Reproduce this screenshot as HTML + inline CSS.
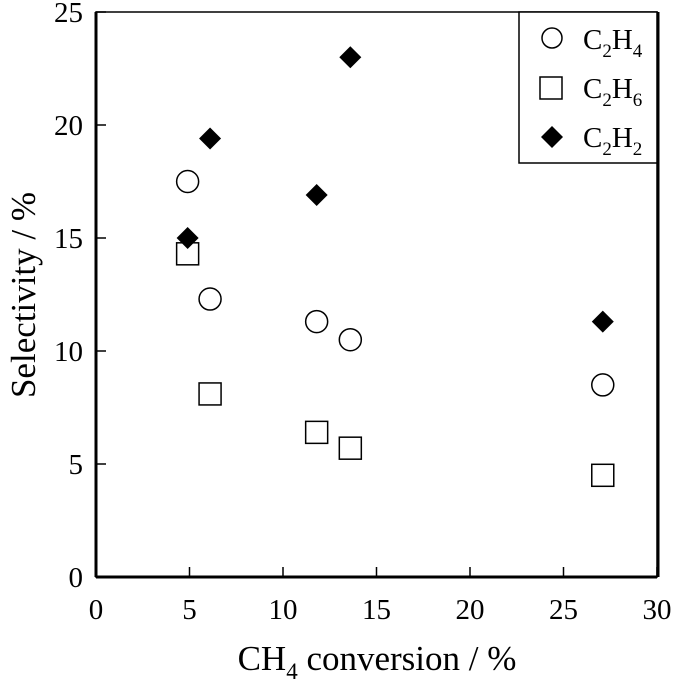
<!DOCTYPE html>
<html><head><meta charset="utf-8"><style>
body{margin:0;background:#fff;}
svg text{font-family:"Liberation Serif",serif;fill:#000;}
</style></head><body>
<svg id="chart" width="675" height="690" xmlns="http://www.w3.org/2000/svg">
<g id="axes"></g>
<g id="marks"></g>
<g>
<rect x="519" y="12" width="138" height="151" fill="#fff" stroke="#000" stroke-width="1.5"/>
<circle cx="552" cy="38" r="10" fill="#fff" stroke="#000" stroke-width="1.5"/>
<text x="583" y="49" font-size="29">C<tspan font-size="19" dy="8">2</tspan><tspan dy="-8">H</tspan><tspan font-size="19" dy="8">4</tspan></text>
<rect x="540" y="77" width="22" height="22" fill="#fff" stroke="#000" stroke-width="1.5"/>
<text x="583" y="98" font-size="29">C<tspan font-size="19" dy="8">2</tspan><tspan dy="-8">H</tspan><tspan font-size="19" dy="8">6</tspan></text>
<polygon points="552,126 563,137 552,148 541,137" fill="#000"/>
<text x="583" y="147" font-size="29">C<tspan font-size="19" dy="8">2</tspan><tspan dy="-8">H</tspan><tspan font-size="19" dy="8">2</tspan></text>
</g>
<text x="377" y="670" font-size="35" text-anchor="middle">CH<tspan font-size="23" dy="9">4</tspan><tspan dy="-9"> conversion / %</tspan></text>
<text transform="translate(35,295) rotate(-90)" font-size="35" text-anchor="middle">Selectivity / %</text>
</svg>
<script>
const xValues = [4.9, 6.1, 11.8, 13.6, 27.1];
const c2h4 = [17.5, 12.3, 11.3, 10.5, 8.5];
const c2h6 = [14.3, 8.1, 6.4, 5.7, 4.5];
const c2h2 = [15.0, 19.4, 16.9, 23.0, 11.3];
const xTicks = [0, 5, 10, 15, 20, 25, 30];
const yTicks = [0, 5, 10, 15, 20, 25];

const X0=96, X1=657, Y0=577, Y1=12;
const sx = v => X0 + v/30*(X1-X0);
const sy = v => Y0 - v/25*(Y0-Y1);
const NS="http://www.w3.org/2000/svg";
const axes=document.getElementById('axes'), marks=document.getElementById('marks');
function mk(tag, attrs, parent){const e=document.createElementNS(NS,tag);for(const k in attrs)e.setAttribute(k,attrs[k]);parent.appendChild(e);return e;}

let f=mk('rect',{x:X0,y:Y1,width:X1-X0,height:Y0-Y1,fill:'none',stroke:'#000','stroke-width':1.5},axes);


let l=mk('line',{x1:X0,y1:Y1,x2:X0,y2:Y0,stroke:'#000','stroke-width':3},axes);


l=mk('line',{x1:X0,y1:Y0,x2:X1,y2:Y0,stroke:'#000','stroke-width':3},axes);


l=mk('line',{x1:X1+1,y1:Y1,x2:X1+1,y2:Y0,stroke:'#000','stroke-width':3},axes);



xTicks.forEach(t=>{
  const x=sx(t);
  const tk=mk('line',{x1:x,y1:Y0,x2:x,y2:Y0-10,stroke:'#000','stroke-width':1.5},axes);
  
  
  const tx=mk('text',{x:x,y:Y0+42,'font-size':29,'text-anchor':'middle'},axes);
  tx.textContent=t;
  
  
});
yTicks.forEach(t=>{
  const y=sy(t);
  const tk=mk('line',{x1:X0,y1:y,x2:X0+10,y2:y,stroke:'#000','stroke-width':1.5},axes);
  
  
  const tx=mk('text',{x:X0-13,y:y+10,'font-size':29,'text-anchor':'end'},axes);
  tx.textContent=t;
  
  
});

xValues.forEach((xv,i)=>{
  const x=sx(xv);
  let c=mk('circle',{cx:x,cy:sy(c2h4[i]),r:11,fill:'#fff',stroke:'#000','stroke-width':1.5},marks);
  
  
  let s=mk('rect',{x:x-11,y:sy(c2h6[i])-11,width:22,height:22,fill:'#fff',stroke:'#000','stroke-width':1.5},marks);
  
  
  const y=sy(c2h2[i]);
  let d=mk('polygon',{points:`${x},${y-11} ${x+11},${y} ${x},${y+11} ${x-11},${y}`,fill:'#000'},marks);
  
  
});
</script>
</body></html>
